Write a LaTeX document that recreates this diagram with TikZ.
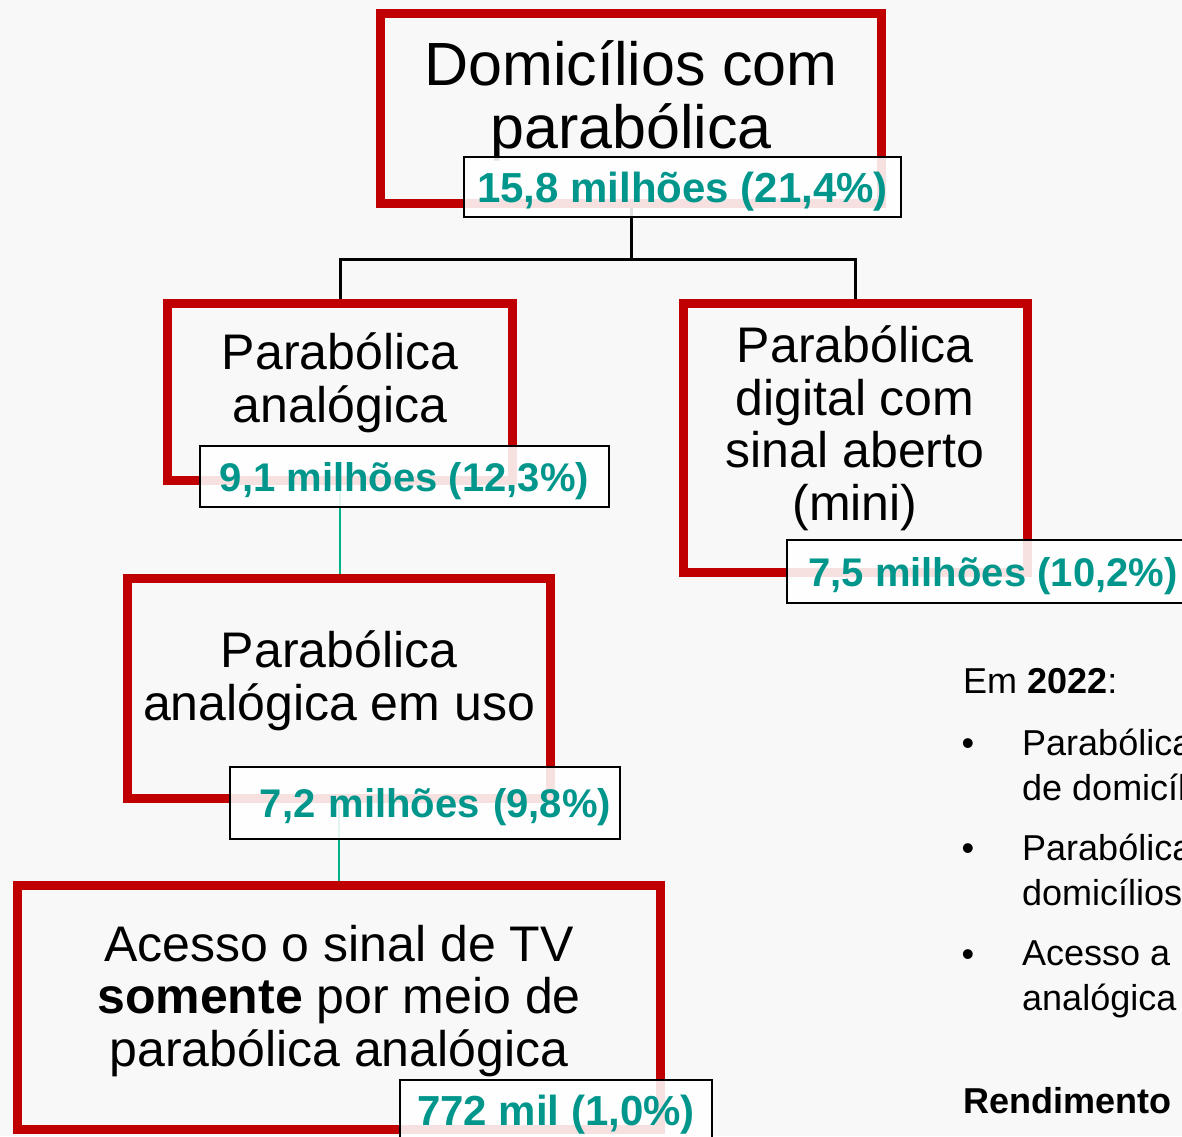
\documentclass[tikz,border=0pt]{standalone}
\usepackage{fontspec}
\setmainfont{Liberation Sans}
\definecolor{bg}{HTML}{F8F8F8}
\definecolor{boxred}{HTML}{C00000}
\definecolor{tealtxt}{HTML}{00968C}
\definecolor{lgreen}{HTML}{00B386}
\tikzset{
  redbox/.style={draw=boxred, line width=9pt, inner sep=0pt},
  lbl/.style={draw=black, line width=2.5pt, fill=white, fill opacity=0.88, text opacity=1,
              text=tealtxt, inner sep=0pt, text depth=0pt, font=\bfseries\fontsize{40}{44}\selectfont},
  conn/.style={draw=black, line width=3pt},
  gconn/.style={draw=lgreen, line width=2pt},
  boxtext/.style={align=center, inner sep=0pt, font=\fontsize{50}{52.5}\selectfont},
  rtext/.style={inner sep=0pt, font=\fontsize{36}{45}\selectfont}
}
\begin{document}
\begin{tikzpicture}[x=1pt,y=-1pt]
\useasboundingbox (0,0) rectangle (1182,1136);
\clip (0,0) rectangle (1182,1136);
\fill[bg] (0,0) rectangle (1182,1136);

% red boxes
\node[redbox, minimum width=501pt, minimum height=190pt] (b1) at (631,108.5) {};
\node[redbox, minimum width=345pt, minimum height=177pt] (b2) at (340,392) {};
\node[redbox, minimum width=344pt, minimum height=269pt] (b4) at (855.5,438) {};
\node[redbox, minimum width=423pt, minimum height=220pt] (b3) at (339,688.5) {};
\node[redbox, minimum width=643pt, minimum height=244pt] (b5) at (339,1007.5) {};

% connectors
\coordinate (jn) at (631,259);
\draw[conn] (b1.south) -- (jn);
\draw[conn] (jn) -| (b2.north);
\draw[conn] (jn) -| (b4.north);
\draw[gconn] (b2.south) -- (b2.south |- b3.north);
\draw[gconn] (b3.south) -- (b3.south |- b5.north);

% box texts (anchor = baseline of last line)
\node[boxtext, anchor=base, font=\fontsize{61}{63}\selectfont] (t1) at (631,148) {Domicílios com\\parabólica};
\node[boxtext, anchor=base] (t2) at (340,422) {Parabólica\\analógica};
\node[boxtext, anchor=base] (t4) at (855,520) {Parabólica\\digital com\\sinal aberto\\(mini)};
\node[boxtext, anchor=base] (t3) at (339,720) {Parabólica\\analógica em uso};
\node[boxtext, anchor=base] (t5) at (339,1066) {Acesso o sinal de TV\\\textbf{somente} por meio de\\parabólica analógica};

% labels
\node[lbl, font=\bfseries\fontsize{42}{46}\selectfont, minimum width=437pt, minimum height=60pt] (l1) at (682.5,187) {15,8 milhões (21,4\%)};
\node[lbl, minimum width=409pt, minimum height=61pt] (l2) at (404.5,476.5) {9,1 milhões (12,3\%)};
\node[lbl, minimum width=412pt, minimum height=63pt] (l4) at (993,571.5) {7,5 milhões (10,2\%)};
\node[lbl, text width=372pt, align=right, inner xsep=9pt, minimum height=72pt] (l3) at (425,803) {7,2 milhões (9,8\%)};
\node[lbl, font=\bfseries\fontsize{42}{46}\selectfont, minimum width=312pt, minimum height=60pt] (l5) at (556,1110) {772 mil (1,0\%)};

% right column
\node[rtext, anchor=base west] (em) at (963,693) {Em \textbf{2022}:};
\node[rtext, anchor=base] (bu1) at (968,755) {•};
\node[rtext, anchor=base west, align=left] (p1) at (1022,800) {Parabólica\\de domicílios};
\node[rtext, anchor=base] (bu2) at (968,860) {•};
\node[rtext, anchor=base west, align=left] (p2) at (1022,905) {Parabólica\\domicílios};
\node[rtext, anchor=base] (bu3) at (968,966) {•};
\node[rtext, anchor=base west, align=left] (p3) at (1022,1010) {Acesso a\\analógica};
\node[rtext, anchor=base west, font=\bfseries\fontsize{36}{45}\selectfont] (rend) at (963,1113) {Rendimento};
\end{tikzpicture}
\end{document}
